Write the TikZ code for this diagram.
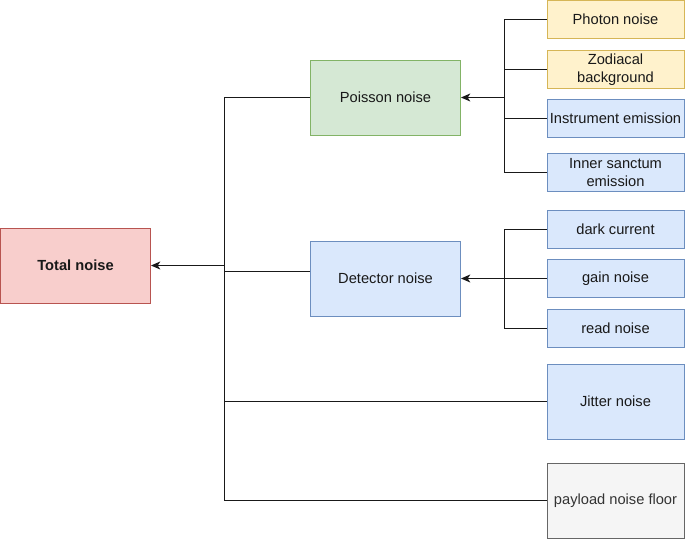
\documentclass[tikz,border=0pt]{standalone}
\usepackage{fontspec}
\setmainfont{Liberation Sans}
\usepackage{tikz}
\usetikzlibrary{arrows.meta,shapes,positioning}
\definecolor{redfill}{HTML}{F8CECC}
\definecolor{redline}{HTML}{B85450}
\definecolor{greenfill}{HTML}{D5E8D4}
\definecolor{greenline}{HTML}{82B366}
\definecolor{bluefill}{HTML}{DAE8FC}
\definecolor{blueline}{HTML}{6C8EBF}
\definecolor{yellowfill}{HTML}{FFF2CC}
\definecolor{yellowline}{HTML}{D6B656}
\definecolor{grayfill}{HTML}{F5F5F5}
\definecolor{grayline}{HTML}{666666}
\definecolor{graytext}{HTML}{333333}
\tikzset{
    basic/.style  = {draw, rectangle, line width=0.75pt, align=center, inner xsep=0pt, inner ysep=1pt,
                     font=\fontsize{11}{13.5}\selectfont, text=black!90},
    big box/.style   = {basic, minimum width=112.5pt, minimum height=56.25pt},
    small box/.style = {basic, minimum width=102.75pt, minimum height=28.5pt},
    tall box/.style  = {basic, minimum width=102.75pt, minimum height=56.25pt},
    red box/.style    = {fill=redfill, draw=redline},
    green box/.style  = {fill=greenfill, draw=greenline},
    blue box/.style   = {fill=bluefill, draw=blueline},
    yellow box/.style = {fill=yellowfill, draw=yellowline},
    gray box/.style   = {fill=grayfill, draw=grayline, text=graytext},
    link/.style = {draw, line width=0.75pt, black!90}
}
\begin{document}
\begin{tikzpicture}[x=0.75pt, y=-0.75pt, >={Stealth[length=7pt,width=6pt,inset=2pt]}]
	\useasboundingbox (0,0) rectangle (685,539);
	% left and middle column
	\node[big box, red box, font=\fontsize{11}{13.5}\selectfont\bfseries] (total) at (75.5,265.5) {Total noise};
	\node[big box, green box] (poisson) at (385.5,97.5) {Poisson noise};
	\node[big box, blue box] (detector) at (385.5,278.5) {Detector noise};
	% right column
	\node[small box, yellow box] (photon) at (615.5,19.5) {Photon noise};
	\node[small box, yellow box] (zodiacal) at (615.5,69.5) {Zodiacal\\background};
	\node[small box, blue box] (instrument) at (615.5,118.5) {Instrument emission};
	\node[small box, blue box] (sanctum) at (615.5,172.5) {Inner sanctum\\emission};
	\node[small box, blue box] (dark) at (615.5,229.5) {dark current};
	\node[small box, blue box] (gain) at (615.5,278.5) {gain noise};
	\node[small box, blue box] (read) at (615.5,328.5) {read noise};
	\node[tall box, blue box] (jitter) at (615.5,401.5) {Jitter noise};
	\node[tall box, gray box] (payload) at (615.5,500.5) {payload noise floor};
	% junctions
	\coordinate (poissonjoin) at (504.5,97.5);
	\coordinate (detectorjoin) at (504.5,278.5);
	\coordinate (totaljoin) at (224.5,265.5);
	% poisson branch
	\draw[link] (photon.west) -| (poissonjoin) |- (sanctum.west);
	\draw[link] (zodiacal.west) -- (zodiacal.west -| poissonjoin);
	\draw[link] (instrument.west) -- (instrument.west -| poissonjoin);
	\draw[link,->] (poissonjoin) -- (poisson.east);
	% detector branch
	\draw[link] (dark.west) -| (detectorjoin) |- (read.west);
	\draw[link] (gain.west) -- (gain.west -| detectorjoin);
	\draw[link,->] (detectorjoin) -- (detector.east);
	% total
	\draw[link] (poisson.west) -| (totaljoin) |- (payload.west);
	\draw[link] ([yshift=5.25pt]detector.west) -- ([yshift=5.25pt]detector.west -| totaljoin);
	\draw[link] (jitter.west) -- (jitter.west -| totaljoin);
	\draw[link,->] (totaljoin) -- (total.east);
\end{tikzpicture}
\end{document}
